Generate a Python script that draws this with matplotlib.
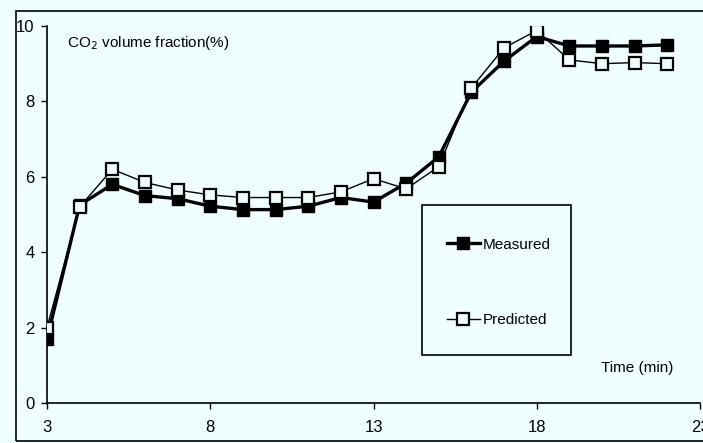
import matplotlib as mpl
from matplotlib import pyplot as plt
from matplotlib.patches import Rectangle

mpl.rcParams['font.family'] = ['Liberation Sans', 'DejaVu Sans']

# Sampling times (min) and CO2 volume fraction (%)
time_min = [3, 4, 5, 6, 7, 8, 9, 10, 11, 12, 13, 14, 15, 16, 17, 18, 19, 20, 21, 22]
measured = [1.7, 5.25, 5.8, 5.5, 5.42, 5.22, 5.13, 5.13, 5.22, 5.45, 5.33, 5.83,
            6.53, 8.25, 9.07, 9.72, 9.47, 9.47, 9.47, 9.5]
predicted = [2.0, 5.2, 6.2, 5.85, 5.65, 5.52, 5.45, 5.45, 5.45, 5.6, 5.95, 5.68,
             6.27, 8.36, 9.42, 9.88, 9.1, 9.0, 9.03, 9.0]

x_ticks = [3, 8, 13, 18, 23]
y_ticks = [0, 2, 4, 6, 8, 10]

bg = '#effefe'

fig = plt.figure(figsize=(7.03, 4.43), dpi=100, facecolor=bg)
W, H = 703, 443

# outer frame around the chart
fig.patches.append(Rectangle((16 / W, 1 - 441 / H), 720 / W, 430 / H,
                             transform=fig.transFigure, fill=False,
                             edgecolor='black', linewidth=1.2))

ax = fig.add_axes([47 / W, 1 - 403 / H, 653 / W, 377 / H])
ax.set_facecolor(bg)

ax.plot(time_min, measured, color='black', linewidth=2.4, marker='s',
        markersize=9, markerfacecolor='black', markeredgecolor='black',
        label='Measured', zorder=3)
ax.plot(time_min, predicted, color='black', linewidth=1.0, marker='s',
        markersize=9, markerfacecolor=bg, markeredgecolor='black',
        markeredgewidth=1.6, label='Predicted', zorder=4)

ax.set_xlim(3, 23)
ax.set_ylim(0, 10)
ax.set_xticks(x_ticks)
ax.set_yticks(y_ticks)
for s in ['top', 'right']:
    ax.spines[s].set_visible(False)
ax.spines['left'].set_linewidth(1.2)
ax.spines['bottom'].set_linewidth(1.2)
ax.tick_params(axis='both', labelsize=12, length=4, width=1)
ax.tick_params(axis='x', direction='out', pad=8)
ax.tick_params(axis='y', direction='out', pad=5)

ax.text(0.031, 0.955, r'CO$_2$ volume fraction(%)', transform=ax.transAxes,
        fontsize=11, va='center', ha='left')
ax.text(0.848, 0.092, 'Time (min)', transform=ax.transAxes,
        fontsize=11, va='center', ha='left')

# legend box drawn separately so its size can be set
ax.add_patch(Rectangle((0.574, 0.127), 0.228, 0.397, transform=ax.transAxes,
                       facecolor=bg, edgecolor='black', linewidth=1.2,
                       zorder=5))
leg = ax.legend(loc='center', bbox_to_anchor=(0.692, 0.32), frameon=False,
                fontsize=11, handlelength=2.2, labelspacing=4.0,
                handletextpad=0.2)
leg.set_zorder(6)

fig.savefig('out.png', dpi=100, facecolor=bg)
